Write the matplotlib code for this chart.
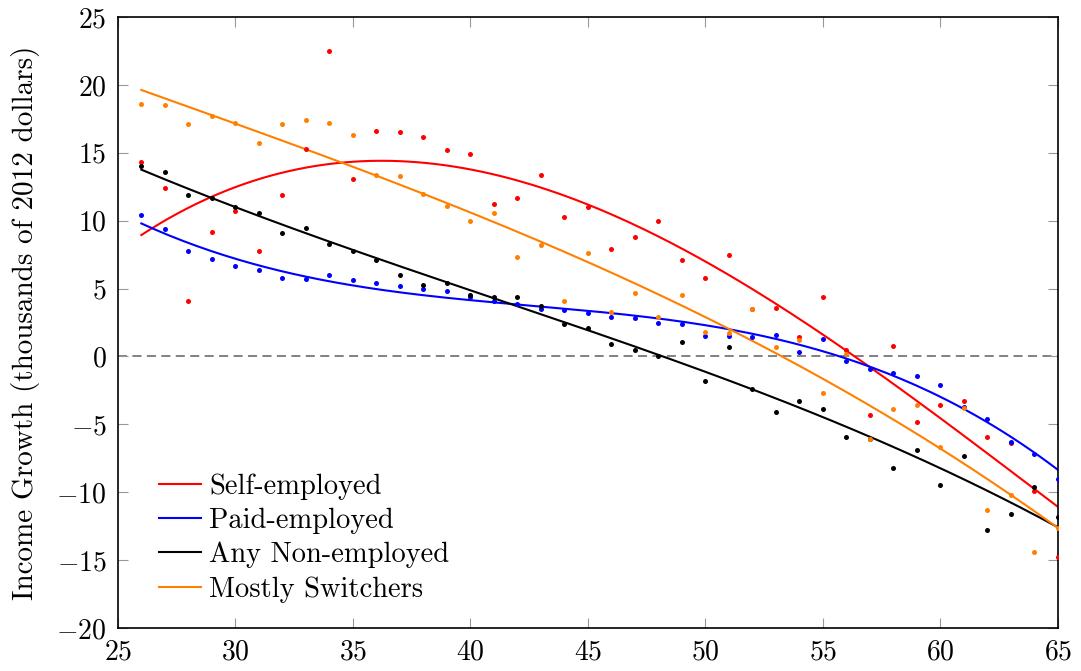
import numpy as np
import matplotlib
matplotlib.use("Agg")
import matplotlib.pyplot as plt

plt.rcParams['font.family'] = 'serif'
plt.rcParams['font.serif'] = ['cmr10']
plt.rcParams['mathtext.fontset'] = 'cm'
plt.rcParams['axes.formatter.use_mathtext'] = True
plt.rcParams['axes.unicode_minus'] = True

ages = np.arange(26, 66)

self_employed = [14.3, 12.4, 4.1, 9.2, 10.7, 7.8, 11.9, 15.3, 22.5, 13.1,
                 16.6, 16.5, 16.2, 15.2, 14.9, 11.2, 11.7, 13.4, 10.3, 11.0,
                 7.9, 8.8, 10.0, 7.1, 5.8, 7.5, 3.5, 3.6, 1.4, 4.4,
                 0.5, -4.3, 0.8, -4.8, -3.6, -3.3, -5.9, -6.4, -9.9, -14.8]
paid_employed = [10.4, 9.4, 7.8, 7.2, 6.7, 6.4, 5.8, 5.7, 6.0, 5.6,
                 5.4, 5.2, 5.0, 4.8, 4.4, 4.1, 3.9, 3.5, 3.4, 3.2,
                 2.9, 2.8, 2.5, 2.4, 1.5, 1.5, 1.4, 1.6, 0.3, 1.3,
                 -0.3, -0.9, -1.2, -1.4, -2.1, -3.7, -4.6, -6.3, -7.2, -9.0]
non_employed = [14.0, 13.6, 11.9, 11.7, 11.0, 10.6, 9.1, 9.5, 8.3, 7.8,
                7.1, 6.0, 5.3, 5.4, 4.5, 4.4, 4.4, 3.7, 2.4, 2.1,
                0.9, 0.5, 0.0, 1.1, -1.8, 0.7, -2.4, -4.1, -3.3, -3.9,
                -5.9, -6.1, -8.2, -6.9, -9.5, -7.3, -12.8, -11.6, -9.6, -11.8]
switchers = [18.6, 18.5, 17.1, 17.7, 17.2, 15.7, 17.1, 17.4, 17.2, 16.3,
             13.4, 13.3, 12.0, 11.1, 10.0, 10.6, 7.3, 8.2, 4.1, 7.6,
             3.3, 4.7, 2.9, 4.5, 1.8, 1.7, 3.5, 0.7, 1.2, -2.7,
             0.2, -6.1, -3.9, -3.6, -6.7, -3.8, -11.3, -10.2, -14.4, -12.6]

series = [
    ("Self-employed", self_employed, "#ff0000"),
    ("Paid-employed", paid_employed, "#0000ff"),
    ("Any Non-employed", non_employed, "#000000"),
    ("Mostly Switchers", switchers, "#ff8000"),
]

fig = plt.figure(figsize=(10.81, 6.71), dpi=100)
ax = fig.add_axes([0.109, 0.064, 0.8697, 0.9106])

ax.axhline(0, color="#777777", lw=1.3, dashes=(5, 3), zorder=1)

# cubic trend through each group's points
xs = np.linspace(ages[0], ages[-1], 200)
for label, vals, col in series:
    ax.plot(ages, vals, "o", color=col, ms=3.6, mew=0, zorder=3)
    coef = np.polyfit(ages, vals, 3)
    ax.plot(xs, np.polyval(coef, xs), color=col, lw=1.5, label=label, zorder=2)

ax.set_xlim(25, 65)
ax.set_ylim(-20, 25)
ax.set_xticks(range(25, 66, 5))
ax.set_yticks(range(-20, 26, 5))
ax.tick_params(direction="in", length=7, width=0.8, color="#999999",
               top=True, right=True, labelsize=20, pad=8)
for s in ax.spines.values():
    s.set_linewidth(1.2)

ax.set_ylabel("Income Growth (thousands of 2012 dollars)", fontsize=21, labelpad=12)

ax.legend(loc="lower left", bbox_to_anchor=(0.013, -0.005), frameon=False,
          fontsize=20.5, handlelength=1.5, handletextpad=0.28, labelspacing=0.27,
          borderaxespad=0.6)

fig.savefig("out.png", dpi=100)
